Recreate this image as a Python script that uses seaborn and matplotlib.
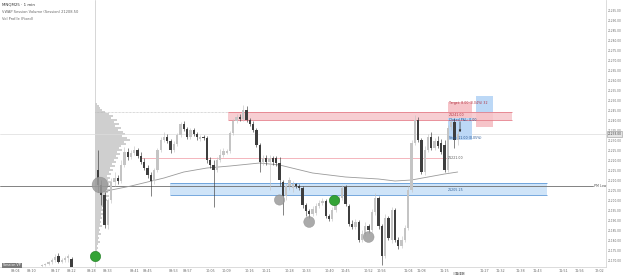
import numpy as np
import pandas as pd
import matplotlib
matplotlib.use("Agg")
import matplotlib.pyplot as plt
import seaborn as sns
from matplotlib.patches import Rectangle

# ---------------- data ----------------
header_lines = ["MNQM25 · 1 min", "VWAP Session Volume (Session) 21208.50", "Vol Profile (Fixed)"]

bars = [-17, -16, -15, -14, -13, -12, -11, -10, -9, -8] + list(range(0, 110))

opens = [21167, 21167.5, 21168, 21169, 21170, 21172, 21169, 21170, 21171, 21170.5,
         21215, 21207.5, 21202.5, 21187.5, 21200, 21209, 21211, 21209.5, 21217.5, 21224,
         21221.5, 21223.5, 21225, 21222, 21219, 21216, 21212.5, 21209.5, 21215, 21225,
         21230, 21231.5, 21229.5, 21225, 21228, 21232.5, 21238, 21235.5, 21231.5, 21235,
         21233, 21230.5, 21231.5, 21231, 21220, 21217.5, 21215, 21220, 21222.5, 21223.5,
         21224.5, 21233.5, 21239.5, 21241.5, 21240.5, 21245, 21240, 21238, 21235, 21227.5,
         21219, 21221, 21219, 21221, 21221, 21218.5, 21209, 21202, 21207, 21206,
         21208, 21207, 21206, 21197.5, 21194.5, 21193, 21193.5, 21197, 21198.5, 21199.5,
         21192, 21190.5, 21195, 21199, 21201, 21206.5, 21197, 21188, 21186.5, 21189,
         21180, 21183, 21187, 21185, 21194, 21201, 21187, 21172, 21191, 21180,
         21195, 21180, 21177, 21180, 21186, 21205, 21228.5, 21240, 21230, 21214,
         21225, 21231.5, 21226, 21229.5, 21228.5, 21227.5, 21215, 21236.5, 21239, 21230]

highs = [21168, 21168.5, 21169.5, 21171, 21173, 21173.5, 21171, 21172, 21173, 21171.5,
         21225, 21210, 21204, 21201, 21211, 21214, 21212.5, 21220, 21226.5, 21226,
         21225, 21227, 21226, 21224, 21221, 21217.5, 21214, 21216, 21226, 21231.5,
         21234, 21233, 21230.5, 21229.5, 21233.5, 21239, 21239.5, 21236.5, 21236, 21236,
         21234, 21232.5, 21232.5, 21232, 21221.5, 21220, 21221.5, 21225.5, 21226, 21225.5,
         21234.5, 21240.5, 21243, 21243, 21247.5, 21247, 21241, 21239.5, 21236, 21228.5,
         21222.5, 21222.5, 21222.5, 21222, 21222, 21221.5, 21210, 21208.5, 21211.5, 21209.5,
         21208.5, 21208, 21207, 21198.5, 21195.5, 21197, 21198.5, 21200, 21201, 21200.5,
         21193, 21196.5, 21201.5, 21202.5, 21207.5, 21207.5, 21198, 21190, 21190.5, 21190,
         21185, 21189, 21188, 21195.5, 21203.5, 21202, 21188, 21193, 21192, 21196.5,
         21196, 21181.5, 21182, 21187.5, 21207, 21230, 21242.5, 21241.5, 21231, 21227,
         21233, 21234, 21231, 21232, 21230.5, 21230, 21237.5, 21241, 21241, 21235]

lows = [21166.5, 21167, 21167.5, 21168, 21169, 21168.5, 21168.5, 21169, 21169, 21166,
        21204, 21197.5, 21186, 21185.5, 21198.5, 21207, 21208, 21208.5, 21216.5, 21220,
        21220.5, 21222.5, 21221, 21218, 21215, 21211, 21202, 21208, 21214, 21224,
        21229, 21228.5, 21223.5, 21224, 21227, 21231.5, 21234.5, 21230.5, 21230.5, 21232,
        21230, 21229.5, 21230, 21218.5, 21216, 21196.5, 21214, 21219, 21221.5, 21223,
        21223.5, 21232.5, 21238.5, 21239.5, 21239.5, 21239, 21237, 21234, 21226.5, 21214,
        21217.5, 21217.5, 21205, 21217.5, 21217, 21207, 21192.5, 21200, 21205, 21204,
        21206, 21205, 21196, 21192, 21191, 21192, 21192.5, 21196, 21197.5, 21191,
        21189.5, 21189.5, 21194, 21198, 21200, 21197, 21187, 21185.5, 21185.5, 21179,
        21179, 21182, 21183.5, 21184, 21192.5, 21185.5, 21167.5, 21171, 21180, 21178.5,
        21179, 21175.5, 21176, 21179, 21185, 21204, 21227.5, 21229, 21213, 21212.5,
        21224, 21225, 21225, 21226, 21223, 21214, 21214, 21235, 21226, 21227.5]

closes = [21167.5, 21168, 21169, 21170, 21171.5, 21169, 21170, 21171, 21172, 21166.5,
          21207.5, 21202.5, 21187.5, 21200, 21209, 21211, 21209.5, 21217.5, 21224, 21221.5,
          21223.5, 21225, 21222, 21219, 21216, 21212.5, 21209.5, 21215, 21225, 21230,
          21231.5, 21229.5, 21225, 21228, 21232.5, 21238, 21235.5, 21231.5, 21235, 21233,
          21231.5, 21231.5, 21231, 21220, 21217.5, 21215, 21220, 21222.5, 21224.5, 21224.5,
          21233.5, 21239.5, 21241.5, 21240.5, 21245, 21240, 21238, 21235, 21227.5, 21219,
          21221, 21219, 21221, 21219, 21218.5, 21210, 21202, 21207, 21210, 21208,
          21207, 21206, 21197.5, 21194.5, 21193, 21195.5, 21197, 21198.5, 21199.5, 21192,
          21190.5, 21195, 21199, 21201, 21206, 21198, 21188, 21186.5, 21189, 21180,
          21183, 21187, 21185, 21194, 21201, 21187, 21172, 21191, 21181, 21195,
          21180, 21177, 21180, 21186, 21205, 21228.5, 21240, 21230, 21214, 21225,
          21231.5, 21226, 21229.5, 21227, 21224, 21215, 21236, 21239, 21230, 21233]

# fixed-range volume profile (1 point rows, from top price downward)
profile_top = 21248.0
profile_step = 1.0
profile_volume = [2, 4, 5, 7, 10, 14, 18, 16, 22, 19, 24, 20, 26, 23, 28, 30, 27, 32, 35, 29,
                  31, 26, 24, 27, 22, 25, 21, 23, 19, 21, 17, 20, 15, 18, 14, 16, 12, 15, 13, 16,
                  14, 17, 12, 15, 13, 11, 14, 10, 12, 9, 8, 10, 7, 8, 6, 9, 6, 7, 5, 6,
                  5, 7, 4, 5, 4, 6, 3, 4, 3, 5, 3, 2, 3, 2, 2, 1, 1]

ma_bars = [2, 4, 10, 20, 26, 33, 40, 49, 55, 60, 65, 70, 75, 80, 85, 90, 95, 100, 105, 109]
ma_values = [21204, 21205, 21207, 21211, 21214, 21216, 21217, 21218.5, 21217.5, 21215.5,
             21213.5, 21212.5, 21211.5, 21211, 21210.5, 21209.5, 21210, 21211.5, 21213, 21214]

gray_sig_bars = [0.6, 55, 64, 82]
gray_sig_prices = [21207.5, 21200, 21189, 21181.5]
gray_sig_sizes = [130, 55, 62, 62]
green_sig_bars = [-1, 71.5]
green_sig_prices = [21172, 21200]

supply_zone = (39.4, 125.5, 21240, 21244)    # bar_from, bar_to, low, high
demand_zone = (21.8, 136.1, 21202.5, 21208.5)
level_pink = 21221.0
level_pm_low = 21207.0
level_vah = 21244.0

price_ticks = [21170, 21175, 21180, 21185, 21190, 21195, 21200, 21205, 21210, 21215, 21220,
               21225, 21230, 21235, 21240, 21245, 21250, 21255, 21260, 21265, 21270, 21275,
               21280, 21285, 21290, 21295]
time_tick_bars = [-25, -20, -13, -8, -2, 3, 11, 15, 23, 27, 34, 39, 46, 51, 58, 63, 70, 75,
                  82, 86, 94, 98, 105, 117, 122, 128, 133, 141, 146, 152]
time_tick_labels = ["09:04", "09:10", "09:17", "09:22", "09:28", "09:33", "09:41", "09:45",
                    "09:53", "09:57", "10:05", "10:09", "10:16", "10:21", "10:28", "10:33",
                    "10:40", "10:45", "10:52", "10:56", "11:04", "11:08", "11:15", "11:27",
                    "11:32", "11:38", "11:43", "11:51", "11:56", "12:02"]
current_time_label = "11:19"

df = pd.DataFrame({"bar": bars, "open": opens, "high": highs, "low": lows, "close": closes})

# ---------------- figure ----------------
sns.set_theme(style="white")
plt.rcParams["font.family"] = ["DejaVu Sans"]

W, H = 625, 275
AX_R = 606
fig = plt.figure(figsize=(W / 100, H / 100), dpi=100)
fig.patch.set_facecolor("white")
ax = fig.add_axes([0, 8 / H, AX_R / W, 267 / H])
ax.set_facecolor("white")

xmin = -29.7
xmax = xmin + AX_R / 3.3
ymin, ymax = 21166.5, 21300.0
ax.set_xlim(xmin, xmax)
ax.set_ylim(ymin, ymax)

# volume profile
prof_prices = profile_top - profile_step * np.arange(len(profile_volume))
vol_scale = 1.0 / 3.3  # 1 volume unit ~ 1 pixel
ax.barh(prof_prices, np.array(profile_volume) * vol_scale, left=-0.9, height=0.85,
        color="#cfcfcf", edgecolor="none", zorder=1)

# session line
ax.axvline(-0.9, color="#d0d0d0", lw=0.6, zorder=1)

# horizontal levels
ax.axhline(level_pm_low, color="#6e6e6e", lw=0.6, xmax=(150.0 - xmin) / (xmax - xmin), zorder=2)
ax.axhline(closes[-1], color="#dcdcdc", lw=0.5, zorder=1)
ax.hlines(level_vah, -0.9, supply_zone[0], color="#b5b5b5", lw=0.5, linestyles=(0, (1, 1)), zorder=1)
ax.hlines(level_pink, 12.7, 105.8, color="#f2aab2", lw=0.6, zorder=2)

# zones
sx0, sx1, sy0, sy1 = supply_zone
ax.add_patch(Rectangle((sx0, sy0), sx1 - sx0, sy1 - sy0, facecolor="#f7c9cd", edgecolor="none", alpha=0.9, zorder=1.5))
ax.hlines([sy0, sy1], sx0, sx1, color="#e57f8a", lw=0.6, zorder=2)
dx0, dx1, dy0, dy1 = demand_zone
ax.add_patch(Rectangle((dx0, dy0), dx1 - dx0, dy1 - dy0, facecolor="#cde3f8", edgecolor="none", alpha=0.95, zorder=1.5))
ax.hlines([dy0, dy1], dx0, dx1, color="#5f9ad8", lw=0.6, zorder=2)

# position tools
ax.add_patch(Rectangle((106.1, 21241), 7.2, 8, facecolor="#f6c4c9", edgecolor="none", zorder=1.6))
ax.add_patch(Rectangle((106.1, 21230), 7.2, 11, facecolor="#bcd8f6", edgecolor="none", zorder=1.6))
ax.add_patch(Rectangle((114.5, 21243.5), 5.2, 8.5, facecolor="#bcd8f6", edgecolor="none", zorder=1.6))
ax.add_patch(Rectangle((114.5, 21236.5), 5.2, 7, facecolor="#f6c4c9", edgecolor="none", zorder=1.6))

# moving average
sns.lineplot(x=ma_bars, y=ma_values, ax=ax, color="#9a9a9a", lw=0.6, zorder=3, legend=False)

# candles
up = df["close"] >= df["open"]
col = np.where(up, "#c4c4c4", "#3e3e3e")
ax.vlines(df["bar"], df["low"], df["high"], colors=col, lw=0.45, zorder=4)
body_low = np.minimum(df["open"], df["close"])
body_h = np.maximum(np.abs(df["close"] - df["open"]), 0.35)
ax.bar(df["bar"], body_h, bottom=body_low, width=0.72, color=col, edgecolor="none", zorder=5)

# arrow in position tool
ax.annotate("", xy=(109.7, 21232.5), xytext=(109.7, 21240.5),
            arrowprops=dict(arrowstyle="-|>", color="#2c2c2c", lw=0.5, mutation_scale=3), zorder=6)

# signal markers
sns.scatterplot(x=gray_sig_bars, y=gray_sig_prices, s=gray_sig_sizes, color="#9b9b9b",
                edgecolor="#8a8a8a", linewidth=0.3, alpha=0.85, ax=ax, zorder=6, legend=False)
sns.scatterplot(x=green_sig_bars, y=green_sig_prices, s=55, color="#34a336",
                edgecolor="#1f7a22", linewidth=0.4, ax=ax, zorder=6, legend=False)

# small labels
fs = 2.3
ax.text(106.4, 21248.5, "Target: 8.00 (0.04%) 32", fontsize=fs, color="#b0303e", va="center", zorder=7)
ax.text(106.4, 21242.3, "21241.00", fontsize=fs, color="#b0303e", va="center", zorder=7)
ax.text(106.4, 21240.0, "Closed P&L: 0.00", fontsize=fs, color="#1d4f8f", va="center", zorder=7)
ax.text(106.4, 21230.8, "Stop: 11.00 (0.05%)", fontsize=fs, color="#1d4f8f", va="center", zorder=7)
ax.text(106.0, level_pink, "21221.00", fontsize=fs, color="#555555", va="center", zorder=7)
ax.text(106.0, 21205.2, "21205.25", fontsize=fs, color="#2d5f99", va="center", zorder=7)
ax.text(150.3, level_pm_low, "PM Low", fontsize=fs, color="#555555", va="center", zorder=7)

# header
for k, line in enumerate(header_lines):
    fig.text(2 / W, 1 - (5 + 7 * k) / H, line, fontsize=2.9 if k == 0 else 2.6,
             color="#333333" if k == 0 else "#666666", va="center", ha="left")

# bottom-left badge
fig.text(2 / W, 1 - 265.5 / H, " Session VP ", fontsize=2.3, color="white", va="center", ha="left",
         bbox=dict(boxstyle="square,pad=0.15", facecolor="#7a7a7a", edgecolor="none"))

# axes styling
sns.despine(ax=ax, top=True, left=True, right=False, bottom=False)
for sp in ("right", "bottom"):
    ax.spines[sp].set_color("#d6d6d6")
    ax.spines[sp].set_linewidth(0.6)
ax.yaxis.tick_right()
ax.set_yticks(price_ticks)
ax.set_yticklabels([f"{p:.2f}" for p in price_ticks])
ax.set_xticks(time_tick_bars)
ax.set_xticklabels(time_tick_labels)
ax.tick_params(axis="y", labelsize=2.1, colors="#6a6a6a", length=0, pad=1.2)
ax.tick_params(axis="x", labelsize=2.4, colors="#6a6a6a", length=0, pad=1.5)
ax.grid(False)
ax.set_xlabel("")
ax.set_ylabel("")

# current price & time badges
ax.text(1.003, (closes[-1] - ymin) / (ymax - ymin), f"{closes[-1]:.2f}", transform=ax.transAxes,
        fontsize=2.1, color="#333333", va="center", ha="left",
        bbox=dict(boxstyle="square,pad=0.2", facecolor="#e6e6e6", edgecolor="#9a9a9a", linewidth=0.4))
ax.text(109.4, -0.02, current_time_label, transform=ax.get_xaxis_transform(), fontsize=2.4,
        color="#333333", va="top", ha="center",
        bbox=dict(boxstyle="square,pad=0.25", facecolor="#d9d9d9", edgecolor="none"))

fig.savefig("out.png", dpi=100, facecolor="white")
